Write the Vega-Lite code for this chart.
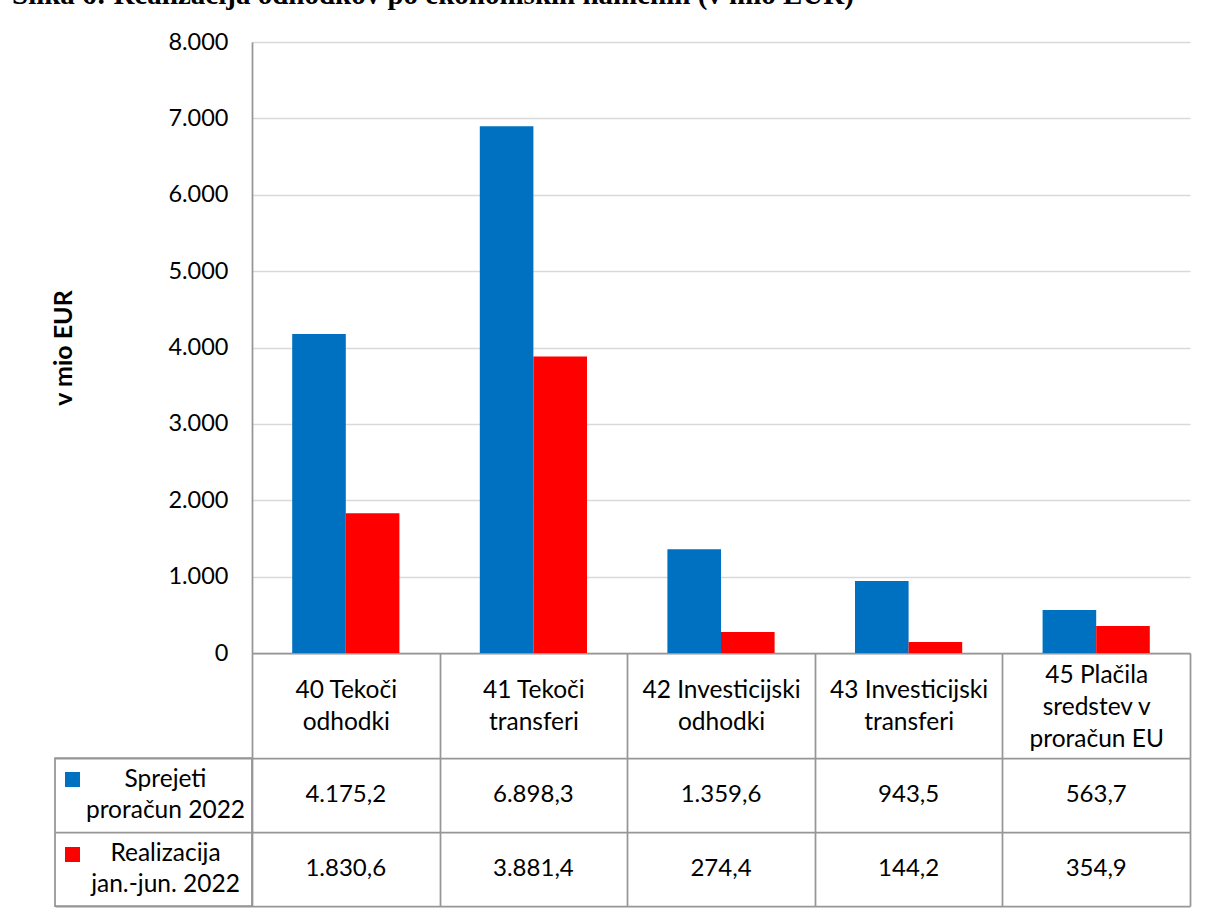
{
  "$schema": "https://vega.github.io/schema/vega-lite/v6.json",
  "background": "white",
  "padding": {"left": 12, "top": -19, "right": 14, "bottom": 8},
  "title": {
    "text": "Slika 6: Realizacija odhodkov po ekonomskih namenih (v mio EUR)",
    "font": "Liberation Serif",
    "fontSize": 29,
    "fontWeight": "bold",
    "color": "black",
    "anchor": "start",
    "dx": -39,
    "offset": 20
  },
  "datasets": {
    "budget": [
      {"cat": "40 Tekoči odhodki", "series": "Sprejeti proračun 2022", "value": 4175.2},
      {"cat": "40 Tekoči odhodki", "series": "Realizacija jan.-jun. 2022", "value": 1830.6},
      {"cat": "41 Tekoči transferi", "series": "Sprejeti proračun 2022", "value": 6898.3},
      {"cat": "41 Tekoči transferi", "series": "Realizacija jan.-jun. 2022", "value": 3881.4},
      {"cat": "42 Investicijski odhodki", "series": "Sprejeti proračun 2022", "value": 1359.6},
      {"cat": "42 Investicijski odhodki", "series": "Realizacija jan.-jun. 2022", "value": 274.4},
      {"cat": "43 Investicijski transferi", "series": "Sprejeti proračun 2022", "value": 943.5},
      {"cat": "43 Investicijski transferi", "series": "Realizacija jan.-jun. 2022", "value": 144.2},
      {"cat": "45 Plačila sredstev v proračun EU", "series": "Sprejeti proračun 2022", "value": 563.7},
      {"cat": "45 Plačila sredstev v proračun EU", "series": "Realizacija jan.-jun. 2022", "value": 354.9}
    ]
  },
  "columns": 2,
  "spacing": {"row": 105, "column": 0},
  "bounds": "flush",
  "concat": [
    {
      "width": 197,
      "height": 611,
      "data": {"values": [{}]},
      "mark": {"type": "point", "opacity": 0},
      "encoding": {}
    },
    {
      "width": 938,
      "height": 611,
      "data": {"name": "budget"},
      "mark": {"type": "bar"},
      "encoding": {
        "x": {
          "field": "cat",
          "type": "nominal",
          "sort": null,
          "scale": {"paddingInner": 0, "paddingOuter": 0},
          "axis": {
            "title": null,
            "orient": "bottom",
            "tickBand": "extent",
            "tickSize": 105,
            "tickColor": "#969696",
            "tickWidth": 1.75,
            "domainColor": "#969696",
            "domainWidth": 1.75,
            "labelAngle": 0,
            "labelAlign": "center",
            "labelBaseline": "middle",
            "labelPadding": {"condition": {"test": "datum.value == '45 Plačila sredstev v proračun EU'", "value": -83}, "value": -68},
            "labelLineHeight": 32,
            "labelFont": "Lato",
            "labelFontSize": 24.5,
            "labelColor": "black",
            "labelLimit": 0,
            "labelExpr": "datum.label == '45 Plačila sredstev v proračun EU' ? ['45 Plačila', 'sredstev v', 'proračun EU'] : [join(slice(split(datum.label, ' '), 0, 2), ' '), join(slice(split(datum.label, ' '), 2), ' ')]",
            "grid": false
          }
        },
        "xOffset": {
          "field": "series",
          "sort": null,
          "scale": {"paddingInner": 0, "paddingOuter": 0.75}
        },
        "y": {
          "field": "value",
          "type": "quantitative",
          "scale": {"domain": [0, 8000], "nice": false},
          "axis": {
            "title": "v mio EUR",
            "titleFont": "Lato",
            "titleFontWeight": "bold",
            "titleFontSize": 25,
            "titleColor": "black",
            "titlePadding": 92,
            "values": [0, 1000, 2000, 3000, 4000, 5000, 6000, 7000, 8000],
            "format": ",.0f",
            "labelFont": "Lato",
            "labelFontSize": 23.5,
            "labelColor": "black",
            "labelPadding": 24,
            "ticks": false,
            "minExtent": 84,
            "maxExtent": 84,
            "domainColor": "#969696",
            "domainWidth": 1.75,
            "grid": true,
            "gridColor": "#d9d9d9",
            "gridWidth": 1.5
          }
        },
        "color": {
          "field": "series",
          "type": "nominal",
          "scale": {"domain": ["Sprejeti proračun 2022", "Realizacija jan.-jun. 2022"], "range": ["#0070C0", "#FF0000"]},
          "legend": {
            "orient": "none",
            "legendX": 10,
            "legendY": 730,
            "title": null,
            "padding": 0,
            "symbolType": "square",
            "symbolSize": 225,
            "symbolStrokeWidth": 0,
            "symbolOpacity": 1,
            "labelExpr": "''",
            "labelFontSize": 1,
            "rowPadding": 60
          }
        }
      }
    },
    {
      "width": 197,
      "height": 148,
      "data": {"values": [{}]},
      "mark": {"type": "point", "opacity": 0},
      "encoding": {},
      "view": {"stroke": "#969696", "strokeWidth": 1.75}
    },
    {
      "width": 938,
      "height": 148,
      "data": {"name": "budget"},
      "mark": {"type": "text", "font": "Lato", "fontSize": 24, "color": "black"},
      "encoding": {
        "x": {
          "field": "cat",
          "type": "nominal",
          "sort": null,
          "scale": {"type": "band", "paddingInner": 0, "paddingOuter": 0},
          "axis": {
            "title": null,
            "labels": false,
            "ticks": false,
            "domain": false,
            "grid": true,
            "tickBand": "extent",
            "gridColor": "#969696",
            "gridWidth": 1.75
          }
        },
        "y": {
          "field": "series",
          "type": "nominal",
          "sort": null,
          "scale": {"type": "band", "paddingInner": 0, "paddingOuter": 0},
          "axis": {
            "title": null,
            "tickBand": "extent",
            "tickSize": 197,
            "tickColor": "#969696",
            "tickWidth": 1.75,
            "domain": false,
            "grid": true,
            "gridColor": "#969696",
            "gridWidth": 1.75,
            "labelAlign": "center",
            "labelBaseline": "middle",
            "labelPadding": -110,
            "labelOffset": -16,
            "labelLineHeight": 31,
            "labelFont": "Lato",
            "labelFontSize": 24.5,
            "labelColor": "black",
            "labelLimit": 0,
            "labelExpr": "[split(datum.label, ' ')[0], join(slice(split(datum.label, ' '), 1), ' ')]"
          }
        },
        "text": {"field": "value", "type": "quantitative", "format": ",.1f"}
      }
    }
  ],
  "config": {
    "locale": {"number": {"decimal": ",", "thousands": ".", "grouping": [3], "currency": ["", " €"]}},
    "view": {"stroke": null},
    "font": "Lato"
  }
}
